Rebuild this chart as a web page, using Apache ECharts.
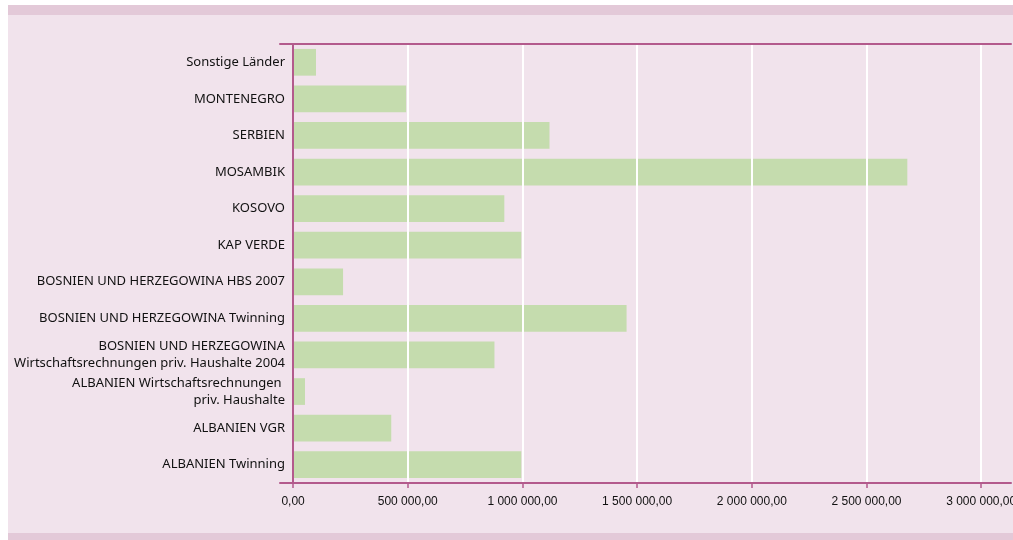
<!DOCTYPE html>
<html><head><meta charset="utf-8">
<script src="https://cdn.jsdelivr.net/npm/echarts@6/dist/echarts.min.js"></script>
<style>
html,body{margin:0;padding:0;background:#ffffff;}
#bg{position:absolute;left:8px;top:5px;width:1005px;height:518px;background:#f1e3ec;border-top:10px solid #e3c9d8;border-bottom:7px solid #e3c9d8;}
#chart{position:absolute;left:0;top:0;width:1013px;height:540px;}
</style></head>
<body>
<div id="bg"></div>
<div id="chart"></div>
<script>
// categories from bottom to top
const categories = [
  'ALBANIEN Twinning',
  'ALBANIEN VGR',
  'ALBANIEN Wirtschaftsrechnungen \npriv. Haushalte',
  'BOSNIEN UND HERZEGOWINA\nWirtschaftsrechnungen priv. Haushalte 2004',
  'BOSNIEN UND HERZEGOWINA Twinning',
  'BOSNIEN UND HERZEGOWINA HBS 2007',
  'KAP VERDE',
  'KOSOVO',
  'MOSAMBIK',
  'SERBIEN',
  'MONTENEGRO',
  'Sonstige Länder'
];
const values = [995000, 428000, 52000, 878000, 1454000, 218000, 995000, 921000, 2678000, 1118000, 493000, 100000];
const tickValues = [0, 500000, 1000000, 1500000, 2000000, 2500000, 3000000];
const axisMin = -57000;
const axisMax = 3130000;

function fmt(v) {
  const s = String(Math.round(v)).replace(/\B(?=(\d{3})+(?!\d))/g, ' ');
  return s + ',00';
}

const pink = '#b35a8c';
const chart = echarts.init(document.getElementById('chart'), null, {renderer: 'canvas'});
chart.setOption({
  backgroundColor: 'transparent',
  animation: false,
  grid: {left: 280, right: 2, top: 44, bottom: 57, containLabel: false, outerBoundsMode: 'none'},
  xAxis: [{
    type: 'value', position: 'bottom', min: axisMin, max: axisMax, z: 3,
    axisLine: {show: true, onZero: false, lineStyle: {color: pink, width: 2}},
    axisTick: {show: true, length: 5, customValues: tickValues, lineStyle: {color: pink, width: 1.5}},
    axisLabel: {customValues: tickValues, formatter: fmt, color: '#111111', fontSize: 12,
      fontFamily: 'Liberation Sans Narrow, Liberation Sans, sans-serif', margin: 13, hideOverlap: false},
    splitLine: {show: true, lineStyle: {color: '#ffffff', width: 2}}
  }, {
    type: 'value', position: 'top', min: axisMin, max: axisMax, z: 3,
    axisLine: {show: true, onZero: false, lineStyle: {color: pink, width: 2}},
    axisTick: {show: false}, axisLabel: {show: false}, splitLine: {show: false}
  }],
  yAxis: {
    type: 'category', data: categories, z: 3,
    axisLine: {show: true, onZero: true, onZeroAxisIndex: 0, lineStyle: {color: pink, width: 2}},
    axisTick: {show: false},
    axisLabel: {color: '#111111', fontSize: 13, lineHeight: 17, margin: -5, padding: [3, 0, 0, 0],
      fontFamily: 'Noto Sans, sans-serif', align: 'right'}
  },
  series: [{
    type: 'bar', xAxisIndex: 0, data: values, barCategoryGap: '27%',
    itemStyle: {color: '#c5dcae'}
  }]
});
</script>
</body></html>
